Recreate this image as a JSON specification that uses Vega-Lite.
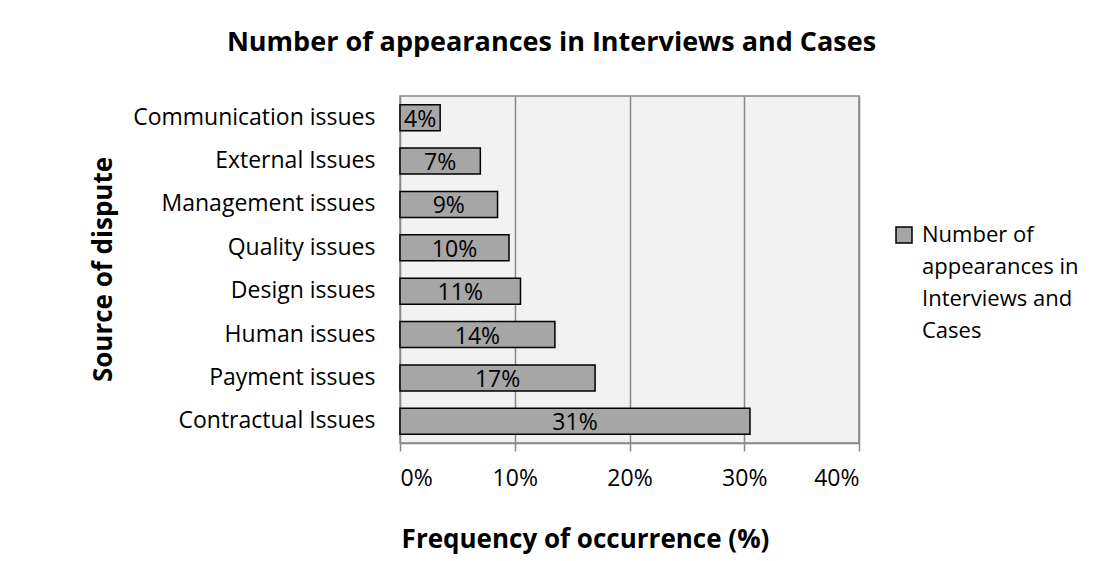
{
  "$schema": "https://vega.github.io/schema/vega-lite/v6.json",
  "width": 459,
  "height": 347,
  "autosize": {"type": "none"},
  "padding": {"left": 400, "top": 96, "right": 249, "bottom": 118},
  "background": "white",
  "title": {
    "text": "Number of appearances in Interviews and Cases",
    "font": "Open Sans",
    "fontSize": 27,
    "fontWeight": "bold",
    "color": "black",
    "anchor": "middle",
    "dx": -78,
    "offset": 39
  },
  "data": {
    "values": [
      {"source": "Communication issues", "value": 0.035, "series": "Number of appearances in Interviews and Cases"},
      {"source": "External Issues", "value": 0.07, "series": "Number of appearances in Interviews and Cases"},
      {"source": "Management issues", "value": 0.085, "series": "Number of appearances in Interviews and Cases"},
      {"source": "Quality issues ", "value": 0.095, "series": "Number of appearances in Interviews and Cases"},
      {"source": "Design issues", "value": 0.105, "series": "Number of appearances in Interviews and Cases"},
      {"source": "Human issues ", "value": 0.135, "series": "Number of appearances in Interviews and Cases"},
      {"source": "Payment issues", "value": 0.17, "series": "Number of appearances in Interviews and Cases"},
      {"source": "Contractual Issues", "value": 0.305, "series": "Number of appearances in Interviews and Cases"}
    ]
  },
  "encoding": {
    "y": {
      "field": "source",
      "type": "nominal",
      "sort": null,
      "scale": {"paddingInner": 0.4, "paddingOuter": 0.2},
      "axis": {
        "title": "Source of dispute",
        "titleFont": "Open Sans",
        "titleFontSize": 26,
        "titleFontWeight": "bold",
        "titleColor": "black",
        "titleX": -284,
        "titleY": 173,
        "titleAngle": -90,
        "titleAlign": "center",
        "titleBaseline": "bottom",
        "labelFont": "Open Sans",
        "labelFontSize": 23,
        "labelColor": "black",
        "labelPadding": 25,
        "labelLimit": 400,
        "labelExpr": "datum.value == 'Quality issues ' || datum.value == 'Human issues ' ? datum.value + '\u2002' : datum.value",
        "ticks": false,
        "domain": false,
        "grid": false
      }
    }
  },
  "layer": [
    {
      "mark": {"type": "bar", "stroke": "black", "strokeWidth": 1.5},
      "encoding": {
        "x": {
          "field": "value",
          "type": "quantitative",
          "scale": {"domain": [0, 0.4], "nice": false},
          "axis": {
            "values": [0, 0.1, 0.2, 0.3, 0.4],
            "format": ".0%",
            "title": "Frequency of occurrence (%)",
            "titleFont": "Open Sans",
            "titleFontSize": 26,
            "titleFontWeight": "bold",
            "titleColor": "black",
            "titleX": 185,
            "titleY": 104,
            "titleBaseline": "alphabetic",
            "labelFont": "Open Sans",
            "labelFontSize": 23,
            "labelColor": "black",
            "labelPadding": 16,
            "domainColor": "#898989",
            "domainWidth": 1.5,
            "tickColor": "#898989",
            "tickWidth": 1.5,
            "tickSize": 8,
            "grid": true,
            "gridColor": "#898989",
            "gridWidth": 1.5
          }
        },
        "color": {
          "field": "series",
          "type": "nominal",
          "scale": {"range": ["#a6a6a6"]},
          "legend": {
            "title": null,
            "orient": "none",
            "legendX": 493,
            "legendY": 128,
            "symbolType": "square",
            "symbolSize": 256,
            "symbolStrokeColor": "black",
            "symbolStrokeWidth": 1.5,
            "symbolFillColor": "#a6a6a6",
            "labelFont": "Open Sans",
            "labelFontSize": 22,
            "labelColor": "black",
            "labelLimit": 400,
            "labelOffset": 7,
            "labelBaseline": "middle",
            "labelExpr": "['Number of', 'appearances in', 'Interviews and', 'Cases']",
            "encode": {"labels": {"update": {"lineHeight": {"value": 32}}}}
          }
        }
      }
    },
    {
      "mark": {"type": "text", "font": "Open Sans", "fontSize": 23, "color": "black", "align": "center", "baseline": "middle", "dy": 2},
      "encoding": {
        "x": {"field": "value", "type": "quantitative", "scale": {"domain": [0, 0.8], "nice": false}, "axis": null},
        "text": {"field": "value", "type": "quantitative", "format": ".0%"}
      }
    }
  ],
  "resolve": {"scale": {"x": "independent"}},
  "config": {
    "view": {"fill": "#f2f2f2", "stroke": "#898989", "strokeWidth": 1.5}
  }
}
